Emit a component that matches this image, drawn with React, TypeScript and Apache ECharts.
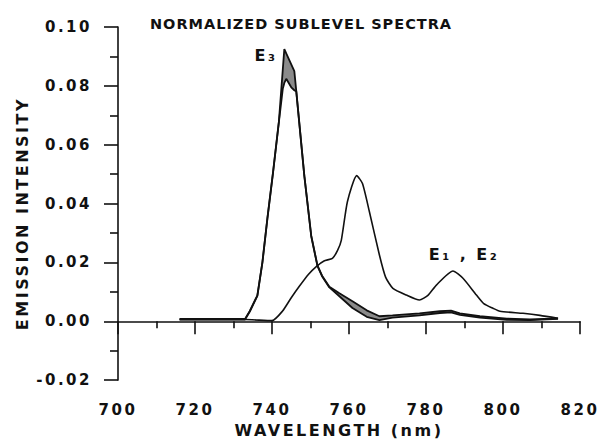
import React, { useEffect, useRef } from "react";
import * as echarts from "echarts";

// ---- data ----
const xTicks = [700, 720, 740, 760, 780, 800, 820];
const yTicks = [-0.02, 0.0, 0.02, 0.04, 0.06, 0.08, 0.1];

// E3 spectra (two determinations, band between them is hatched)
const e3Nm = [716, 725, 733, 734.2, 736.2, 737.5, 738.8, 740.3, 741.8, 742.8, 743.2, 743.7, 745.0, 745.8, 746.3, 748.4, 750.2, 751.8, 753.0, 754.9, 757.5, 760.9, 764.6, 767.9, 771.3, 778.3, 783.6, 786.5, 788.8, 794, 801, 807, 814.3];
const e3Upper = [0.0008, 0.0008, 0.0008, 0.0034, 0.0088, 0.02, 0.035, 0.051, 0.068, 0.0855, 0.0925, 0.091, 0.0873, 0.085, 0.0783, 0.0495, 0.029, 0.019, 0.0155, 0.0117, 0.0095, 0.0068, 0.0037, 0.0017, 0.002, 0.0027, 0.0034, 0.0036, 0.0027, 0.0017, 0.0009, 0.0006, 0.001];
const e3Lower = [0.0006, 0.0006, 0.0006, 0.0032, 0.0086, 0.0198, 0.0348, 0.0508, 0.0678, 0.079, 0.081, 0.0824, 0.0795, 0.0785, 0.0781, 0.0493, 0.0288, 0.0188, 0.0153, 0.0115, 0.0085, 0.0045, 0.0015, 0.0004, 0.0012, 0.002, 0.0028, 0.003, 0.0022, 0.0012, 0.0005, 0.0004, 0.0008];

// E1, E2 spectrum
const e1e2Nm = [716, 725, 733, 740, 742.7, 745, 747.1, 749.5, 751.5, 753.5, 755.7, 757.0, 758.0, 759.6, 762.0, 763.5, 765.3, 767.9, 769.5, 771.4, 774.9, 778.3, 780.5, 782.7, 787.0, 789.6, 793.1, 795, 797.4, 799.2, 805.2, 809.6, 814.3];
const e1e2Val = [0.0006, 0.0006, 0.0006, 0.0002, 0.0034, 0.008, 0.0119, 0.016, 0.0186, 0.0205, 0.0214, 0.024, 0.0275, 0.0407, 0.0495, 0.0468, 0.0372, 0.0225, 0.015, 0.0112, 0.0089, 0.0072, 0.0088, 0.0123, 0.0171, 0.0146, 0.0089, 0.006, 0.0044, 0.0034, 0.0027, 0.002, 0.001];

const titleText = "NORMALIZED SUBLEVEL SPECTRA";
const xName = "WAVELENGTH (nm)";
const yName = "EMISSION INTENSITY";
const e3Label = "E₃";
const e12Label = "E₁ , E₂";

const FONT = "DejaVu Sans";
const INK = "#111";

export default function App() {
  const ref = useRef<HTMLDivElement>(null);
  useEffect(() => {
    if (!ref.current) return;
    const chart = echarts.init(ref.current, undefined, { renderer: "svg" });

    const upperData = e3Nm.map((x, i) => [x, e3Upper[i]]);
    const lowerData = e3Nm.map((x, i) => [x, e3Lower[i]]);
    const e12Data = e1e2Nm.map((x, i) => [x, e1e2Val[i]]);

    const axisCommon = {
      axisLine: { show: true, lineStyle: { color: INK, width: 1.6 } },
      splitLine: { show: false },
      minorSplitLine: { show: false },
    };

    chart.setOption({
      animation: false,
      backgroundColor: "#fff",
      title: {
        text: titleText,
        left: "center",
        top: 11,
        textStyle: { fontFamily: FONT, fontSize: 14.5, fontWeight: "bold", color: INK },
      },
      grid: { left: 118, top: 27, width: 462, height: 355, containLabel: false },
      xAxis: {
        type: "value",
        min: xTicks[0],
        max: xTicks[xTicks.length - 1],
        interval: 20,
        ...axisCommon,
        axisTick: { show: true, length: 13, inside: false, lineStyle: { color: INK, width: 1.6 } },
        minorTick: { show: true, splitNumber: 2, length: 7, lineStyle: { color: INK, width: 1.6 } },
        axisLabel: { margin: 22, color: INK, fontFamily: FONT, fontSize: 15, fontWeight: "bold" },
        name: xName,
        nameLocation: "middle",
        nameGap: 36,
        nameTextStyle: { fontFamily: FONT, fontSize: 16, fontWeight: "bold", color: INK, padding: [0, 20, 0, 0] },
      },
      yAxis: {
        type: "value",
        min: yTicks[0],
        max: yTicks[yTicks.length - 1],
        interval: 0.02,
        ...axisCommon,
        axisTick: { show: true, length: 14, inside: false, lineStyle: { color: INK, width: 1.6 } },
        minorTick: { show: true, splitNumber: 2, length: 8, lineStyle: { color: INK, width: 1.6 } },
        axisLabel: {
          margin: 26,
          color: INK,
          fontFamily: FONT,
          fontSize: 15,
          fontWeight: "bold",
          formatter: (v: number) => v.toFixed(2),
        },
        name: yName,
        nameLocation: "middle",
        nameGap: 88,
        nameTextStyle: { fontFamily: FONT, fontSize: 16, fontWeight: "bold", color: INK, padding: [0, 20, 0, 0] },
      },
      graphic: [
        {
          type: "text",
          x: 266,
          y: 55,
          style: { text: e3Label, fontFamily: FONT, fontSize: 16, fontWeight: "bold", fill: INK, align: "center", verticalAlign: "middle" },
        },
        {
          type: "text",
          x: 464,
          y: 254,
          style: { text: e12Label, fontFamily: FONT, fontSize: 16, fontWeight: "bold", fill: INK, align: "center", verticalAlign: "middle" },
        },
      ],
      series: [
        {
          name: "E3 band",
          type: "custom",
          data: [[e3Nm[0], e3Lower[0]]],
          z: 1,
          renderItem: (_params: any, api: any) => {
            const pts: number[][] = [];
            for (let i = 0; i < e3Nm.length; i++) pts.push(api.coord([e3Nm[i], e3Upper[i]]));
            for (let i = e3Nm.length - 1; i >= 0; i--) pts.push(api.coord([e3Nm[i], e3Lower[i]]));
            return {
              type: "polygon",
              shape: { points: pts },
              style: { fill: "#8a8a8a", stroke: "none" },
            };
          },
        },
        {
          name: "E3 upper",
          type: "line",
          data: upperData,
          symbol: "none",
          lineStyle: { color: INK, width: 1.8 },
          z: 3,
        },
        {
          name: "E3 lower",
          type: "line",
          data: lowerData,
          symbol: "none",
          lineStyle: { color: INK, width: 1.8 },
          z: 3,
        },
        {
          name: "E1, E2",
          type: "line",
          data: e12Data,
          symbol: "none",
          smooth: 0.2,
          lineStyle: { color: INK, width: 1.6 },
          z: 2,
        },
      ],
    });
    return () => chart.dispose();
  }, []);

  return (
    <>
      <style>{`svg text { letter-spacing: 2.5px; } svg text[style*="14.5px"] { letter-spacing: 1px; }`}</style>
      <div ref={ref} style={{ position: "fixed", left: 0, top: 0, width: 602, height: 443 }} />
    </>
  );
}
